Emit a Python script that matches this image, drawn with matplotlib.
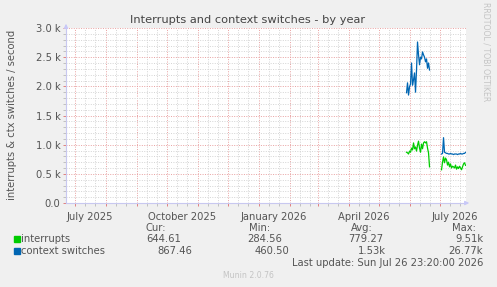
import numpy as np
import matplotlib
matplotlib.use('Agg')
import matplotlib.pyplot as plt
import matplotlib.dates as mdates

# x range of the munin "by year" graph (400 days)
t_start = np.datetime64('2025-06-22T00:00')
t_end = np.datetime64('2026-07-26T23:20')

# daily samples, two runs of data with a gap in between
seg1_start = np.datetime64('2026-05-28')
seg2_start = np.datetime64('2026-07-02')

ctx_seg1 = [1890, 2060, 1850, 1990, 2040, 2400, 2020, 2110, 2230, 1900, 2280, 2760,
            2540, 2370, 2500, 2470, 2590, 2540, 2500, 2420, 2470, 2310, 2400, 2280]
irq_seg1 = [870, 860, 840, 890, 870, 940, 910, 1030, 930, 960, 890, 990,
            1060, 940, 870, 1010, 930, 1030, 1050, 1030, 1050, 940, 860, 620]
ctx_seg2 = [840, 850, 1120, 870, 860, 850, 850, 840, 840, 850, 840, 840, 830,
            840, 840, 840, 830, 840, 840, 850, 840, 840, 850, 850, 867]
irq_seg2 = [570, 700, 790, 690, 770, 740, 650, 700, 620, 670, 600, 630, 620,
            600, 650, 580, 620, 590, 630, 600, 570, 620, 670, 690, 645]

month_labels = ['July 2025', 'October 2025', 'January 2026', 'April 2026', 'July 2026']
month_label_dates = ['2025-07-16', '2025-10-16', '2026-01-16', '2026-04-16', '2026-07-16']

legend_names = ['interrupts', 'context switches']
legend_colors = ['#00cc00', '#0066b3']
cur_vals = ['644.61', '867.46']
min_vals = ['284.56', '460.50']
avg_vals = ['779.27', '1.53k']
max_vals = ['9.51k', '26.77k']

W, H = 497, 287
txt = '#555555'


def fx(x):
    return x / W


def fy(y):
    return 1 - y / H


def days(start, n):
    return start + np.arange(n).astype('timedelta64[D]') + np.timedelta64(12, 'h')


fig = plt.figure(figsize=(W / 100, H / 100), dpi=100, facecolor='#f0f0f0')
ax = fig.add_axes([fx(66), fy(203), 400 / W, 175 / H])
ax.set_facecolor('white')

ax.plot(days(seg1_start, len(irq_seg1)), irq_seg1, color=legend_colors[0], lw=0.9)
ax.plot(days(seg2_start, len(irq_seg2)), irq_seg2, color=legend_colors[0], lw=0.9)
ax.plot(days(seg1_start, len(ctx_seg1)), ctx_seg1, color=legend_colors[1], lw=0.9)
ax.plot(days(seg2_start, len(ctx_seg2)), ctx_seg2, color=legend_colors[1], lw=0.9)

ax.set_xlim(t_start, t_end)
ax.set_ylim(0, 3000)

ax.xaxis.set_major_locator(mdates.MonthLocator())
ax.xaxis.set_minor_locator(mdates.DayLocator(bymonthday=[11, 21]))
ax.xaxis.set_major_formatter(plt.NullFormatter())
ax.set_yticks(np.arange(0, 3001, 500))
ax.set_yticks(np.arange(0, 3001, 100), minor=True)
ax.set_yticklabels(['0.0', '0.5 k', '1.0 k', '1.5 k', '2.0 k', '2.5 k', '3.0 k'])

ax.grid(which='minor', color='#d4d4d4', lw=0.7, ls=(0, (1, 1.5)))
ax.grid(which='major', color='#e8a0a0', lw=0.7, ls=(0, (1, 1.5)))
ax.set_axisbelow(True)
ax.tick_params(which='major', length=2, width=0.7, color='#e08080',
               labelsize=7.2, labelcolor=txt, pad=2)
ax.tick_params(which='minor', length=2, width=0.7, color='#c0c0c0')

for s in ['top', 'right']:
    ax.spines[s].set_visible(False)
for s in ['left', 'bottom']:
    ax.spines[s].set_color('#c8c8f0')
    ax.spines[s].set_linewidth(0.8)

# axis arrows
ax.annotate('', xy=(0, 1.04), xytext=(0, 0.99), xycoords='axes fraction',
            arrowprops=dict(arrowstyle='-|>', color='#c8c8f8', lw=0.8, mutation_scale=6))
ax.annotate('', xy=(1.015, 0), xytext=(0.99, 0), xycoords='axes fraction',
            arrowprops=dict(arrowstyle='-|>', color='#c8c8f8', lw=0.8, mutation_scale=6))

# month labels at mid-month
for lab, d in zip(month_labels, month_label_dates):
    ax.text(np.datetime64(d), -0.05, lab, transform=ax.get_xaxis_transform(),
            ha='center', va='top', fontsize=7.2, color=txt)

fig.text(fx(248), fy(20), 'Interrupts and context switches - by year',
         ha='center', va='center', fontsize=8.2, color='#444444')
fig.text(fx(12), fy(115), 'interrupts & ctx switches / second', rotation=90,
         ha='center', va='center', fontsize=7.2, color=txt)
fig.text(fx(486), fy(52), 'RRDTOOL / TOBI OETIKER', rotation=270,
         ha='center', va='center', fontsize=5.6, color='#c4c4c4')

# legend block
for lab, x in zip(['Cur:', 'Min:', 'Avg:', 'Max:'], [166, 270, 373, 476]):
    fig.text(fx(x), fy(228), lab, ha='right', va='center', fontsize=7.2, color=txt)
rows = [239, 251]
for i in range(2):
    y = rows[i]
    fig.patches.append(plt.Rectangle((fx(14), fy(y + 3)), 6 / W, 6 / H,
                                     transform=fig.transFigure, color=legend_colors[i]))
    fig.text(fx(21), fy(y), legend_names[i], ha='left', va='center', fontsize=7.2, color=txt)
    for v, x in zip([cur_vals[i], min_vals[i], avg_vals[i], max_vals[i]],
                    [[181, 192], [282, 289], [383, 386], [483, 483]]):
        fig.text(fx(x[i]), fy(y), v, ha='right', va='center', fontsize=7.2, color=txt)

fig.text(fx(483), fy(263), 'Last update: Sun Jul 26 23:20:00 2026',
         ha='right', va='center', fontsize=7.2, color=txt)
fig.text(fx(248), fy(276), 'Munin 2.0.76', ha='center', va='center',
         fontsize=5.6, color='#c4c4c4')

fig.savefig('out.png', dpi=100, facecolor=fig.get_facecolor())
